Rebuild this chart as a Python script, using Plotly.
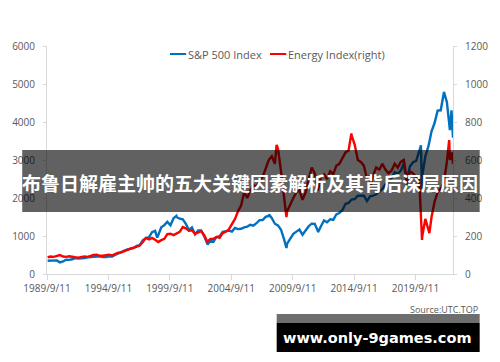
import pandas as pd
import plotly.graph_objects as go

# ---------------- data ----------------
quarter_dates = pd.date_range("1989-09-30", "2022-09-30", freq="QE")

sp500_quarterly = [
    349, 353,
    340, 358, 306, 330,
    375, 371, 388, 417,
    404, 408, 418, 436,
    452, 451, 459, 466,
    446, 444, 463, 459,
    501, 545, 584, 616,
    645, 671, 687, 741,
    757, 885, 947, 970,
    1102, 1134, 1017, 1229,
    1286, 1373, 1283, 1469,
    1499, 1455, 1437, 1320,
    1160, 1224, 1041, 1148,
    1147, 990, 815, 880,
    848, 975, 996, 1112,
    1126, 1141, 1115, 1212,
    1181, 1191, 1229, 1248,
    1295, 1270, 1336, 1418,
    1421, 1503, 1527, 1468,
    1323, 1280, 1166, 903,
    798, 919, 1057, 1115,
    1169, 1031, 1141, 1258,
    1326, 1321, 1131, 1258,
    1408, 1362, 1441, 1426,
    1569, 1606, 1682, 1848,
    1872, 1960, 1972, 2059,
    2068, 2063, 1920, 2044,
    2060, 2099, 2168, 2239,
    2363, 2423, 2519, 2674,
    2641, 2718, 2914, 2507,
    2834, 2942, 2977, 3231,
    2585, 3100, 3363, 3756,
    3973, 4298, 4308, 4766,
    4530, 3785, 3586,
]
sp500_extra_dates = ["1998-08-31", "2000-03-24", "2002-10-09", "2007-10-09",
                     "2009-03-09", "2011-10-03", "2018-12-24", "2020-02-19",
                     "2020-03-23", "2022-01-03", "2022-08-16"]
sp500_extra_values = [957, 1527, 777, 1565, 684, 1099, 2351, 3386, 2237, 4796, 4305]

energy_quarterly = [
    88, 92,
    90, 94, 100, 92,
    90, 93, 92, 88,
    86, 90, 92, 90,
    96, 100, 102, 96,
    96, 100, 102, 98,
    106, 112, 114, 122,
    130, 134, 138, 146,
    150, 168, 190, 182,
    190, 180, 168, 178,
    185, 210, 212, 205,
    215, 222, 247, 240,
    228, 230, 212, 220,
    225, 205, 170, 185,
    185, 195, 190, 215,
    222, 235, 262, 290,
    330, 360, 430, 400,
    440, 470, 455, 495,
    510, 560, 600, 620,
    580, 660, 540, 400,
    330, 370, 400, 430,
    440, 390, 430, 500,
    560, 530, 440, 510,
    525, 500, 540, 525,
    570, 580, 610, 640,
    650, 730, 680, 600,
    590, 570, 500, 520,
    520, 560, 550, 580,
    550, 530, 545, 580,
    560, 590, 600, 490,
    540, 530, 510, 500,
    200, 290, 230, 300,
    380, 430, 450, 480,
    590, 600, 580,
]
energy_extra_dates = ["2008-05-20", "2009-03-09", "2014-06-23", "2016-01-20",
                      "2020-03-23", "2020-10-28", "2022-06-08", "2022-08-29"]
energy_extra_values = [680, 300, 740, 470, 179, 215, 705, 640]

x_tick_dates = ["1989-09-11", "1994-09-11", "1999-09-11", "2004-09-11",
                "2009-09-11", "2014-09-11", "2019-09-11"]
x_tick_labels = ["1989/9/11", "1994/9/11", "1999/9/11", "2004/9/11",
                 "2009/9/11", "2014/9/11", "2019/9/11"]

series_names = ["S&P 500 Index", "Energy Index(right)"]
title_text = "布鲁日解雇主帅的五大关键因素解析及其背后深层原因"
source_text = "Source:UTC.TOP"
site_text = "www.only-9games.com"


def merge(qdates, qvals, edates, evals):
    s = pd.Series(list(qvals), index=qdates)
    e = pd.Series(list(evals), index=pd.to_datetime(edates))
    m = pd.concat([s, e]).sort_index()
    return m.index, m.values


sp_x, sp_y = merge(quarter_dates, sp500_quarterly, sp500_extra_dates, sp500_extra_values)
en_x, en_y = merge(quarter_dates, energy_quarterly, energy_extra_dates, energy_extra_values)

# ---------------- layout helpers (pixel -> paper) ----------------
W, H = 500, 362
L, R, T, B = 36, 462, 46, 274


def px(x):
    return (x - L) / (R - L)


def py(y):
    return (B - y) / (B - T)


GRAY = "#595959"
AXIS = "#d9d9d9"
BLUE = "#0070C0"
RED = "#FF0000"

fig = go.Figure()
fig.add_trace(go.Scatter(x=sp_x, y=sp_y, mode="lines", name=series_names[0],
                         line=dict(color=BLUE, width=2.4)))
fig.add_trace(go.Scatter(x=en_x, y=en_y, mode="lines", name=series_names[1],
                         yaxis="y2", line=dict(color=RED, width=2.4)))

shapes = []
annotations = []

# manual legend
for name, col, x0 in [(series_names[0], BLUE, 165), (series_names[1], RED, 270)]:
    shapes.append(dict(type="line", xref="paper", yref="paper",
                       x0=px(x0), x1=px(x0 + 17), y0=py(54), y1=py(54),
                       line=dict(color=col, width=2)))
    annotations.append(dict(text=name, xref="paper", yref="paper",
                            x=px(x0 + 17), y=py(54), xanchor="left", yanchor="middle",
                            showarrow=False, font=dict(family="Open Sans", size=11, color=GRAY)))

# banner overlay
shapes.append(dict(type="rect", xref="paper", yref="paper", layer="above",
                   x0=px(10), x1=px(490), y0=py(212), y1=py(150),
                   fillcolor="rgba(0,0,0,0.62)", line=dict(width=0)))
annotations.append(dict(text="<b>" + title_text + "</b>", xref="paper", yref="paper",
                        x=px(249), y=py(182), xanchor="center", yanchor="middle",
                        showarrow=False,
                        font=dict(family="Noto Sans CJK SC", size=19, color="white")))

# source text
annotations.append(dict(text=source_text, xref="paper", yref="paper",
                        x=px(490), y=py(309), xanchor="right", yanchor="middle",
                        showarrow=False, font=dict(family="Open Sans", size=9, color=GRAY)))

# site box
shapes.append(dict(type="rect", xref="paper", yref="paper", layer="above",
                   x0=px(277), x1=px(490), y0=py(323), y1=py(314),
                   fillcolor="#6e6e6e", line=dict(width=0)))
shapes.append(dict(type="rect", xref="paper", yref="paper", layer="above",
                   x0=px(277), x1=px(490), y0=py(352), y1=py(323),
                   fillcolor="#000000", line=dict(width=0)))
annotations.append(dict(text="<b>" + site_text + "</b>", xref="paper", yref="paper",
                        x=px(383), y=py(338), xanchor="center", yanchor="middle",
                        showarrow=False,
                        font=dict(family="DejaVu Sans", size=14.5, color="white")))

fig.update_layout(
    width=W, height=H, autosize=False,
    margin=dict(l=L, r=W - R, t=T, b=H - B, pad=0),
    paper_bgcolor="white", plot_bgcolor="white",
    showlegend=False,
    font=dict(family="Open Sans", size=10, color=GRAY),
    xaxis=dict(type="date", range=["1989-09-11", "2022-09-30"],
               tickvals=x_tick_dates, ticktext=x_tick_labels,
               showgrid=False, zeroline=False,
               showline=True, linecolor=AXIS, linewidth=1,
               ticks="outside", ticklen=5, tickcolor=AXIS,
               tickfont=dict(family="Open Sans", size=10, color=GRAY)),
    yaxis=dict(range=[0, 6000], dtick=1000, showgrid=False, zeroline=False,
               showline=True, linecolor=AXIS, linewidth=1,
               ticks="outside", ticklen=3, tickcolor=AXIS, ticklabelstandoff=6,
               tickfont=dict(family="Open Sans", size=10, color=GRAY)),
    yaxis2=dict(range=[0, 1200], dtick=200, overlaying="y", side="right",
                showgrid=False, zeroline=False,
                showline=True, linecolor=AXIS, linewidth=1,
                ticks="outside", ticklen=3, tickcolor=AXIS, ticklabelstandoff=6,
                tickfont=dict(family="Open Sans", size=10, color=GRAY)),
    shapes=shapes,
    annotations=annotations,
)

fig.write_html("out.html")
